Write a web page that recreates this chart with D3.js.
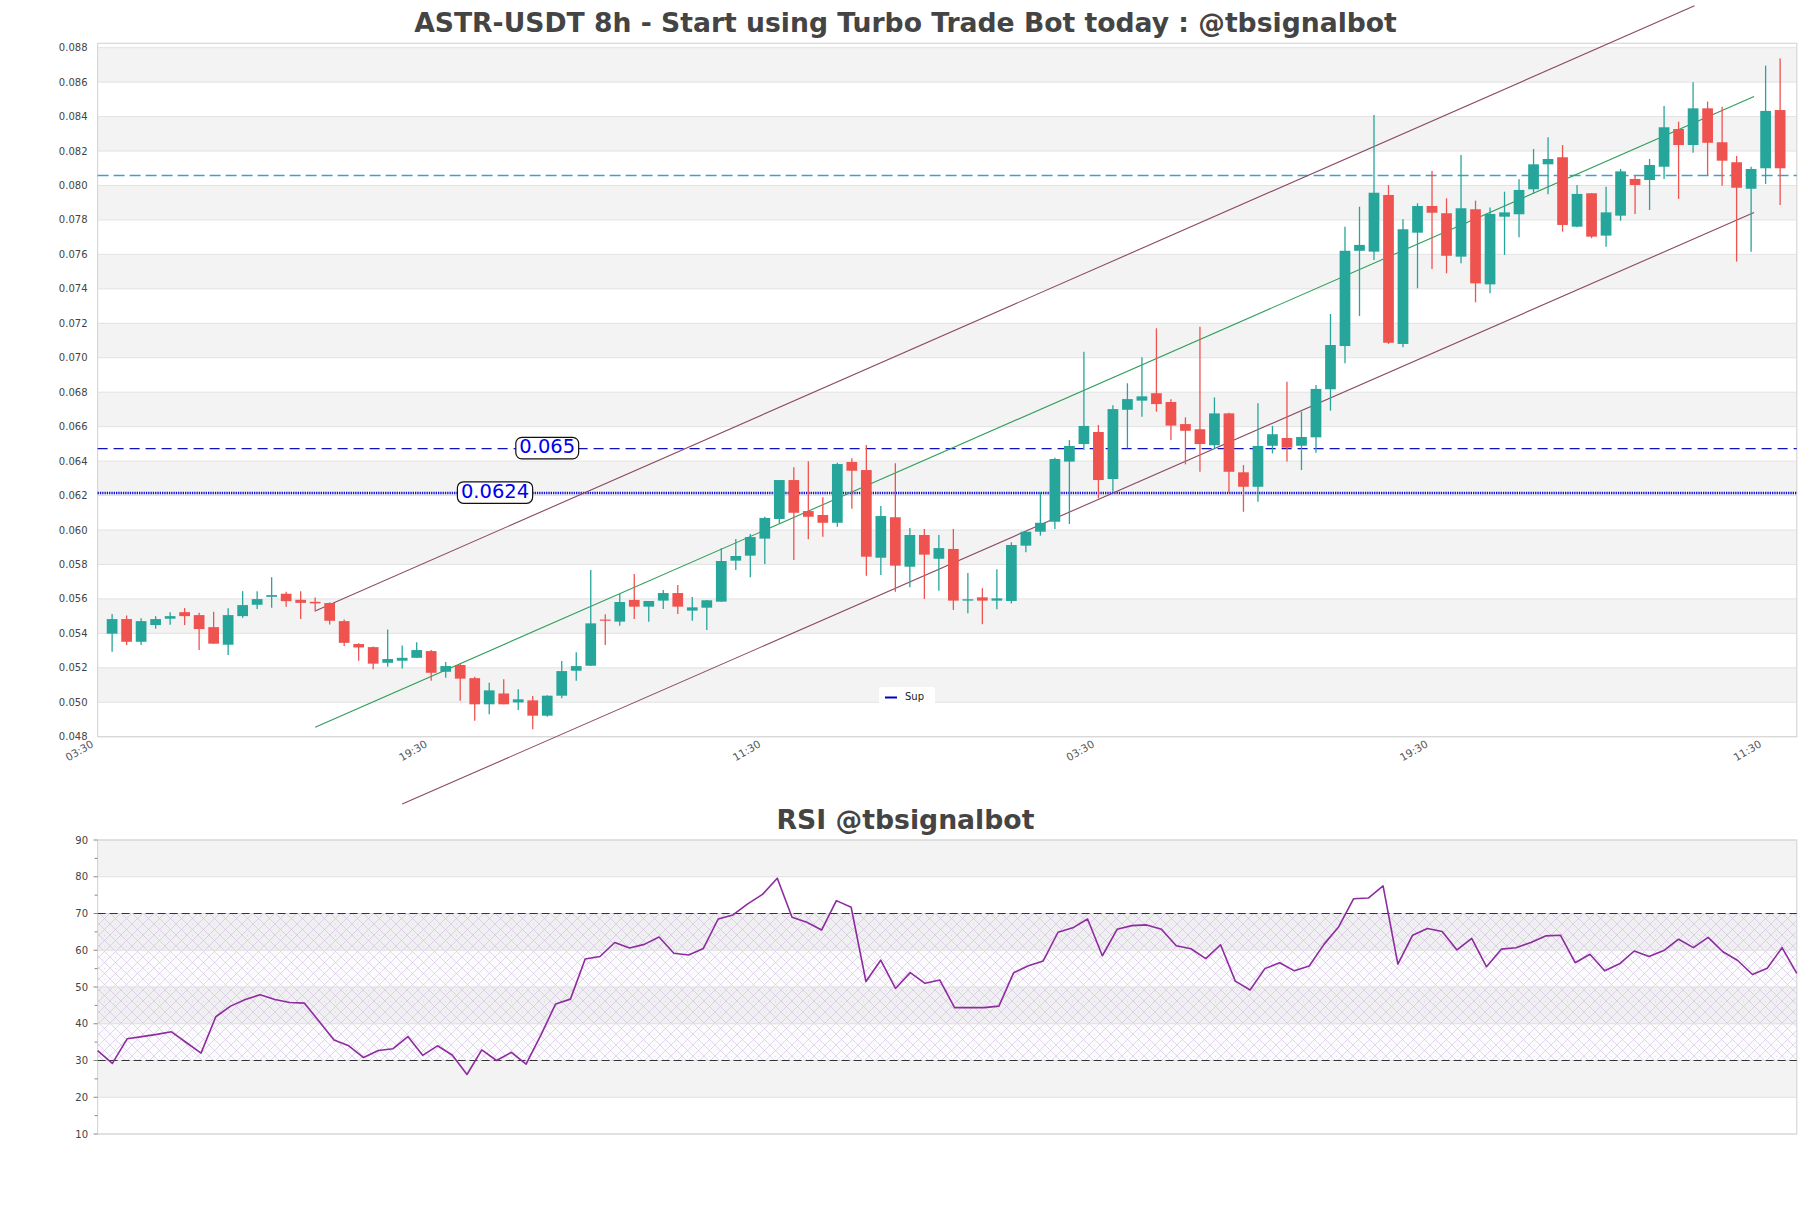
<!DOCTYPE html>
<html><head><meta charset="utf-8">
<script src="https://cdn.jsdelivr.net/npm/d3@7/dist/d3.min.js"></script>
<style>
body{margin:0;background:#fff}
svg{display:block}
text{font-family:"DejaVu Sans",sans-serif}
</style>
</head><body>
<svg id="chart" width="1811" height="1208"></svg>
<script>
// ---------------- DATA ----------------
const opens = [0.05398,0.05483,0.05351,0.05448,0.05485,0.05523,0.05506,0.05436,0.05334,0.05500,
0.05566,0.05612,0.05630,0.05595,0.05583,0.05576,0.05471,0.05338,0.05320,0.05229,
0.05241,0.05258,0.05297,0.05177,0.05216,0.05140,0.04988,0.05051,0.04999,0.05011,
0.04922,0.05038,0.05183,0.05212,0.05480,0.05468,0.05594,0.05555,0.05590,0.05634,
0.05532,0.05549,0.05584,0.05822,0.05851,0.05950,0.06064,0.06290,0.06110,0.06087,
0.06042,0.06395,0.06348,0.05839,0.06074,0.05787,0.05971,0.05833,0.05890,0.05590,
0.05609,0.05590,0.05588,0.05909,0.05990,0.06048,0.06397,0.06499,0.06569,0.06296,
0.06698,0.06751,0.06794,0.06743,0.06615,0.06585,0.06492,0.06677,0.06335,0.06251,
0.06489,0.06534,0.06489,0.06538,0.06817,0.07068,0.07621,0.07616,0.07945,0.07080,
0.07726,0.07881,0.07839,0.07587,0.07862,0.07426,0.07819,0.07833,0.07978,0.08123,
0.08164,0.07761,0.07955,0.07709,0.07825,0.08038,0.08032,0.08109,0.08328,0.08235,
0.08448,0.08251,0.08135,0.07981,0.08100,0.08438];
const highs = [0.05512,0.05504,0.05487,0.05500,0.05523,0.05547,0.05519,0.05525,0.05545,0.05645,
0.05645,0.05726,0.05641,0.05645,0.05608,0.05580,0.05481,0.05342,0.05324,0.05423,
0.05330,0.05349,0.05303,0.05233,0.05225,0.05148,0.05113,0.05133,0.05075,0.05036,
0.05040,0.05240,0.05290,0.05768,0.05511,0.05628,0.05745,0.05588,0.05652,0.05681,
0.05611,0.05592,0.05894,0.05948,0.05977,0.06077,0.06290,0.06364,0.06399,0.06190,
0.06391,0.06416,0.06493,0.06139,0.06387,0.06012,0.06006,0.05971,0.06006,0.05750,
0.05662,0.05772,0.05929,0.05990,0.06219,0.06420,0.06522,0.07035,0.06610,0.06724,
0.06852,0.07003,0.07171,0.06759,0.06654,0.07180,0.06770,0.06680,0.06377,0.06736,
0.06604,0.06861,0.06687,0.06842,0.07254,0.07761,0.07877,0.08409,0.08003,0.07804,
0.07897,0.08084,0.07926,0.08177,0.07912,0.07873,0.07964,0.08036,0.08212,0.08280,
0.08235,0.08003,0.07955,0.07993,0.08096,0.08055,0.08154,0.08462,0.08370,0.08599,
0.08487,0.08457,0.08171,0.08109,0.08696,0.08738];
const lows = [0.05293,0.05332,0.05332,0.05427,0.05450,0.05448,0.05303,0.05340,0.05274,0.05490,
0.05541,0.05548,0.05554,0.05483,0.05527,0.05452,0.05326,0.05241,0.05191,0.05206,
0.05196,0.05258,0.05125,0.05142,0.05009,0.04893,0.04930,0.04988,0.04955,0.04843,
0.04916,0.05023,0.05125,0.05210,0.05332,0.05444,0.05483,0.05468,0.05541,0.05512,
0.05473,0.05419,0.05584,0.05768,0.05725,0.05803,0.06039,0.05826,0.05946,0.05961,
0.06019,0.06124,0.05735,0.05739,0.05642,0.05667,0.05599,0.05648,0.05536,0.05516,
0.05453,0.05540,0.05574,0.05871,0.05967,0.06006,0.06035,0.06464,0.06184,0.06222,
0.06474,0.06658,0.06687,0.06522,0.06381,0.06338,0.06470,0.06217,0.06106,0.06164,
0.06445,0.06397,0.06348,0.06449,0.06693,0.06968,0.07242,0.07567,0.07080,0.07061,
0.07403,0.07515,0.07490,0.07548,0.07322,0.07374,0.07597,0.07699,0.07955,0.07949,
0.07732,0.07757,0.07694,0.07645,0.07796,0.07835,0.07858,0.08038,0.07922,0.08190,
0.08057,0.07999,0.07558,0.07616,0.08009,0.07887];
const closes = [0.05483,0.05351,0.05471,0.05483,0.05500,0.05500,0.05425,0.05340,0.05506,0.05564,
0.05599,0.05622,0.05587,0.05577,0.05574,0.05473,0.05345,0.05318,0.05224,0.05251,
0.05258,0.05303,0.05171,0.05210,0.05137,0.04988,0.05069,0.04988,0.05017,0.04922,
0.05038,0.05181,0.05210,0.05458,0.05475,0.05582,0.05555,0.05588,0.05634,0.05555,
0.05551,0.05592,0.05820,0.05849,0.05959,0.06070,0.06290,0.06100,0.06077,0.06042,
0.06383,0.06344,0.05845,0.06081,0.05793,0.05971,0.05857,0.05895,0.05590,0.05598,
0.05590,0.05603,0.05913,0.05990,0.06042,0.06412,0.06488,0.06604,0.06290,0.06702,
0.06760,0.06776,0.06731,0.06606,0.06576,0.06499,0.06677,0.06338,0.06251,0.06488,
0.06556,0.06478,0.06540,0.06819,0.07074,0.07621,0.07655,0.07958,0.07087,0.07746,
0.07881,0.07842,0.07592,0.07868,0.07432,0.07835,0.07844,0.07974,0.08123,0.08154,
0.07771,0.07951,0.07703,0.07844,0.08082,0.08003,0.08119,0.08338,0.08235,0.08448,
0.08248,0.08144,0.07987,0.08096,0.08433,0.08100];

const rsiValues = [32.7,29.2,35.9,36.5,37.1,37.8,34.9,32.0,41.9,44.8,
46.6,47.9,46.6,45.8,45.6,40.6,35.6,34.0,30.8,32.7,
33.2,36.5,31.4,34.0,31.5,26.2,32.9,30.0,32.2,29.0,
36.9,45.4,46.7,57.6,58.3,62.1,60.6,61.6,63.6,59.2,
58.7,60.5,68.5,69.6,72.6,75.2,79.6,69.0,67.6,65.5,
73.5,71.7,51.5,57.3,49.6,53.9,51.0,51.9,44.4,44.4,
44.4,44.8,53.9,55.8,57.1,64.9,66.1,68.5,58.5,65.7,
66.7,66.9,65.7,61.2,60.4,57.7,61.5,51.6,49.2,55.0,
56.6,54.4,55.7,61.6,66.4,74.0,74.2,77.5,56.2,64.1,
65.9,65.1,60.1,63.2,55.5,60.3,60.7,62.1,63.9,64.1,
56.6,58.9,54.4,56.3,59.8,58.3,59.9,63.0,60.7,63.5,
59.6,57.2,53.4,55.1,60.7,53.7];

const priceTicks = [0.048,0.050,0.052,0.054,0.056,0.058,0.060,0.062,0.064,0.066,0.068,
0.070,0.072,0.074,0.076,0.078,0.080,0.082,0.084,0.086,0.088];
const timeTickIndex = [-1,22,45,68,91,114];
const timeTickLabels = ["03:30","19:30","11:30","03:30","19:30","11:30"];
const rsiTicks = [10,20,30,40,50,60,70,80,90];
const rsiMinorTicks = [15,25,35,45,55,65,75,85];

const levelValues = [0.06473, 0.06215];
const levelLabels = ["0.065", "0.0624"];
const levelLabelIndex = [30.0, 26.4];
const resistanceValue = 0.08058;

const channelStartIndex = [14, 14, 20];
const channelStartValue = [0.05530, 0.04855, 0.04409];
const channelEndIndex = [109.1, 113.2, 113.2];
const channelEndValue = [0.09043, 0.08516, 0.07843];

const mainTitle = "ASTR-USDT 8h - Start using Turbo Trade Bot today : @tbsignalbot";
const rsiTitle = "RSI @tbsignalbot";
const legendLabel = "Sup";

// ---------------- DRAW ----------------
const svg = d3.select("#chart");
const plotL = 97.6, plotR = 1796.8;
const mainTop = 43.3, mainBot = 736.7;

const x = d3.scaleLinear().domain([-1, 116.15]).range([plotL, plotR]);
const y = d3.scaleLinear().domain([0.048, 0.088]).range([mainBot, 47.7]);
const step = x(1) - x(0);

const GREEN = "#26a69a", RED = "#ef5350";

function fitTitle(txt, cx, baseline, targetW) {
  const t = svg.append("text").attr("x", cx).attr("y", baseline)
    .attr("text-anchor", "middle").attr("font-weight", "bold")
    .attr("font-size", 27).attr("fill", "#444").text(txt);
  const w = t.node().getComputedTextLength();
  t.attr("font-size", 27 * targetW / w);
  return t;
}

fitTitle(mainTitle, 905.5, 32.3, 983);

// main background bands
const gMain = svg.append("g");
gMain.append("rect").attr("x", plotL).attr("y", mainTop).attr("width", plotR - plotL)
  .attr("height", mainBot - mainTop).attr("fill", "#fff");
for (let k = 1; k < priceTicks.length - 1; k += 2) {
  gMain.append("rect").attr("x", plotL).attr("width", plotR - plotL)
    .attr("y", y(priceTicks[k + 1])).attr("height", y(priceTicks[k]) - y(priceTicks[k + 1]))
    .attr("fill", "#f3f3f3");
}
gMain.selectAll("line.grid").data(priceTicks).join("line")
  .attr("x1", plotL).attr("x2", plotR).attr("y1", d => y(d)).attr("y2", d => y(d))
  .attr("stroke", "#e2e2e2").attr("stroke-width", 1);
gMain.append("rect").attr("x", plotL).attr("y", mainTop).attr("width", plotR - plotL)
  .attr("height", mainBot - mainTop).attr("fill", "none").attr("stroke", "#d8d8d8").attr("stroke-width", 1.2);

// y axis labels
svg.append("g").selectAll("text").data(priceTicks).join("text")
  .attr("x", 87.5).attr("y", d => y(d)).attr("dy", "0.35em")
  .attr("text-anchor", "end").attr("font-size", 10).attr("fill", "#444")
  .text(d3.format(".3f"));

// x axis labels
svg.append("g").selectAll("g").data(timeTickIndex).join("g")
  .attr("transform", d => `translate(${x(d) - 7},${mainBot + 3}) rotate(-30)`)
  .append("text").attr("text-anchor", "end").attr("dy", "0.72em")
  .attr("font-size", 10.5).attr("fill", "#555")
  .text((d, i) => timeTickLabels[i]);

// horizontal levels
svg.append("line").attr("x1", plotL).attr("x2", plotR)
  .attr("y1", y(resistanceValue)).attr("y2", y(resistanceValue))
  .attr("stroke", "#3aa0d2").attr("stroke-width", 1.3).attr("stroke-dasharray", "11,5");
svg.append("line").attr("x1", plotL).attr("x2", plotR)
  .attr("y1", y(levelValues[0])).attr("y2", y(levelValues[0]))
  .attr("stroke", "#1010c0").attr("stroke-width", 1.3).attr("stroke-dasharray", "10,6");
svg.append("line").attr("x1", plotL).attr("x2", plotR)
  .attr("y1", y(levelValues[1])).attr("y2", y(levelValues[1]))
  .attr("stroke", "#1010d0").attr("stroke-width", 2.6).attr("stroke-dasharray", "1.3,1");

// channel lines
const chanColors = ["#8b4a62", "#2e9e58", "#8b4a62"];
channelStartIndex.forEach((s, i) => {
  svg.append("line")
    .attr("x1", x(s)).attr("y1", y(channelStartValue[i]))
    .attr("x2", x(channelEndIndex[i])).attr("y2", y(channelEndValue[i]))
    .attr("stroke", chanColors[i]).attr("stroke-width", 1.1);
});

// candles
const idx = d3.range(opens.length);
const bw = step * 0.74;
const gC = svg.append("g");
gC.selectAll("line.wick").data(idx).join("line")
  .attr("x1", i => x(i)).attr("x2", i => x(i))
  .attr("y1", i => y(highs[i])).attr("y2", i => y(lows[i]))
  .attr("stroke", i => closes[i] >= opens[i] ? GREEN : RED).attr("stroke-width", 1.3);
gC.selectAll("rect.body").data(idx).join("rect")
  .attr("x", i => x(i) - bw / 2).attr("width", bw)
  .attr("y", i => y(Math.max(opens[i], closes[i])))
  .attr("height", i => Math.max(1.2, Math.abs(y(opens[i]) - y(closes[i]))))
  .attr("fill", i => closes[i] >= opens[i] ? GREEN : RED);

// level labels
levelValues.forEach((v, i) => {
  const g = svg.append("g");
  const t = g.append("text").attr("x", x(levelLabelIndex[i])).attr("y", y(v) - 2)
    .attr("text-anchor", "middle").attr("dy", "0.35em")
    .attr("font-size", 19.5).attr("fill", "#0000ee").text(levelLabels[i]);
  const bb = t.node().getBBox();
  g.insert("rect", "text").attr("x", bb.x - 3.5).attr("y", bb.y + 2)
    .attr("width", bb.width + 7).attr("height", bb.height - 1.5)
    .attr("rx", 6).attr("fill", "#fff").attr("stroke", "#111").attr("stroke-width", 1.2);
});

// legend
const lg = svg.append("g").attr("transform", "translate(879,687)");
lg.append("rect").attr("width", 56).attr("height", 18).attr("rx", 3).attr("fill", "#fff");
lg.append("line").attr("x1", 6).attr("x2", 18).attr("y1", 10.5).attr("y2", 10.5)
  .attr("stroke", "#0000c0").attr("stroke-width", 2);
lg.append("text").attr("x", 26).attr("y", 9).attr("dy", "0.35em")
  .attr("font-size", 10).attr("fill", "#222").text(legendLabel);

// ---------------- RSI PANEL ----------------
fitTitle(rsiTitle, 905.5, 829.3, 258);
const rTop = 840, rBot = 1134;
const xr = d3.scaleLinear().domain([0, rsiValues.length - 1]).range([plotL, plotR]);
const yr = d3.scaleLinear().domain([10, 90]).range([rBot, rTop]);

const defs = svg.append("defs");
const pat = defs.append("pattern").attr("id", "hatch").attr("patternUnits", "userSpaceOnUse")
  .attr("width", 11).attr("height", 11);
pat.append("path").attr("d", "M0,0L11,11M11,0L0,11")
  .attr("stroke", "#c2a9d6").attr("stroke-width", 0.6).attr("opacity", 0.75);
pat.append("circle").attr("cx", 5.5).attr("cy", 0).attr("r", 0.5).attr("fill", "#c9b5d9");

const gR = svg.append("g");
gR.append("rect").attr("x", plotL).attr("y", rTop).attr("width", plotR - plotL)
  .attr("height", rBot - rTop).attr("fill", "#fff");
for (let k = 1; k < rsiTicks.length - 1; k += 2) {
  gR.append("rect").attr("x", plotL).attr("width", plotR - plotL)
    .attr("y", yr(rsiTicks[k + 1])).attr("height", yr(rsiTicks[k]) - yr(rsiTicks[k + 1]))
    .attr("fill", "#f3f3f3");
}
gR.append("rect").attr("x", plotL).attr("width", plotR - plotL)
  .attr("y", yr(70)).attr("height", yr(30) - yr(70)).attr("fill", "#8a5fb0").attr("opacity", 0.025);
gR.append("rect").attr("x", plotL).attr("width", plotR - plotL)
  .attr("y", yr(70)).attr("height", yr(30) - yr(70)).attr("fill", "url(#hatch)");
gR.selectAll("line.grid").data(rsiTicks).join("line")
  .attr("x1", plotL).attr("x2", plotR).attr("y1", d => yr(d)).attr("y2", d => yr(d))
  .attr("stroke", "#e0e0e0").attr("stroke-width", 1);
gR.append("rect").attr("x", plotL).attr("y", rTop).attr("width", plotR - plotL)
  .attr("height", rBot - rTop).attr("fill", "none").attr("stroke", "#d8d8d8").attr("stroke-width", 1.2);

[70, 30].forEach(v => {
  gR.append("line").attr("x1", plotL).attr("x2", plotR).attr("y1", yr(v)).attr("y2", yr(v))
    .attr("stroke", "#333").attr("stroke-width", 1.2).attr("stroke-dasharray", "8,4");
});

gR.append("path").datum(rsiValues)
  .attr("d", d3.line().x((d, i) => xr(i)).y(d => yr(d)))
  .attr("fill", "none").attr("stroke", "#8e2ba0").attr("stroke-width", 1.6)
  .attr("stroke-linejoin", "round");

// rsi axis
gR.selectAll("text.tick").data(rsiTicks).join("text")
  .attr("x", 88).attr("y", d => yr(d)).attr("dy", "0.35em")
  .attr("text-anchor", "end").attr("font-size", 10).attr("fill", "#444").text(d => d);
gR.selectAll("line.major").data(rsiTicks).join("line")
  .attr("x1", plotL - 4).attr("x2", plotL).attr("y1", d => yr(d)).attr("y2", d => yr(d))
  .attr("stroke", "#888").attr("stroke-width", 1);
gR.selectAll("line.minor").data(rsiMinorTicks).join("line")
  .attr("x1", plotL - 3).attr("x2", plotL).attr("y1", d => yr(d)).attr("y2", d => yr(d))
  .attr("stroke", "#888").attr("stroke-width", 1);
</script>
</body></html>
